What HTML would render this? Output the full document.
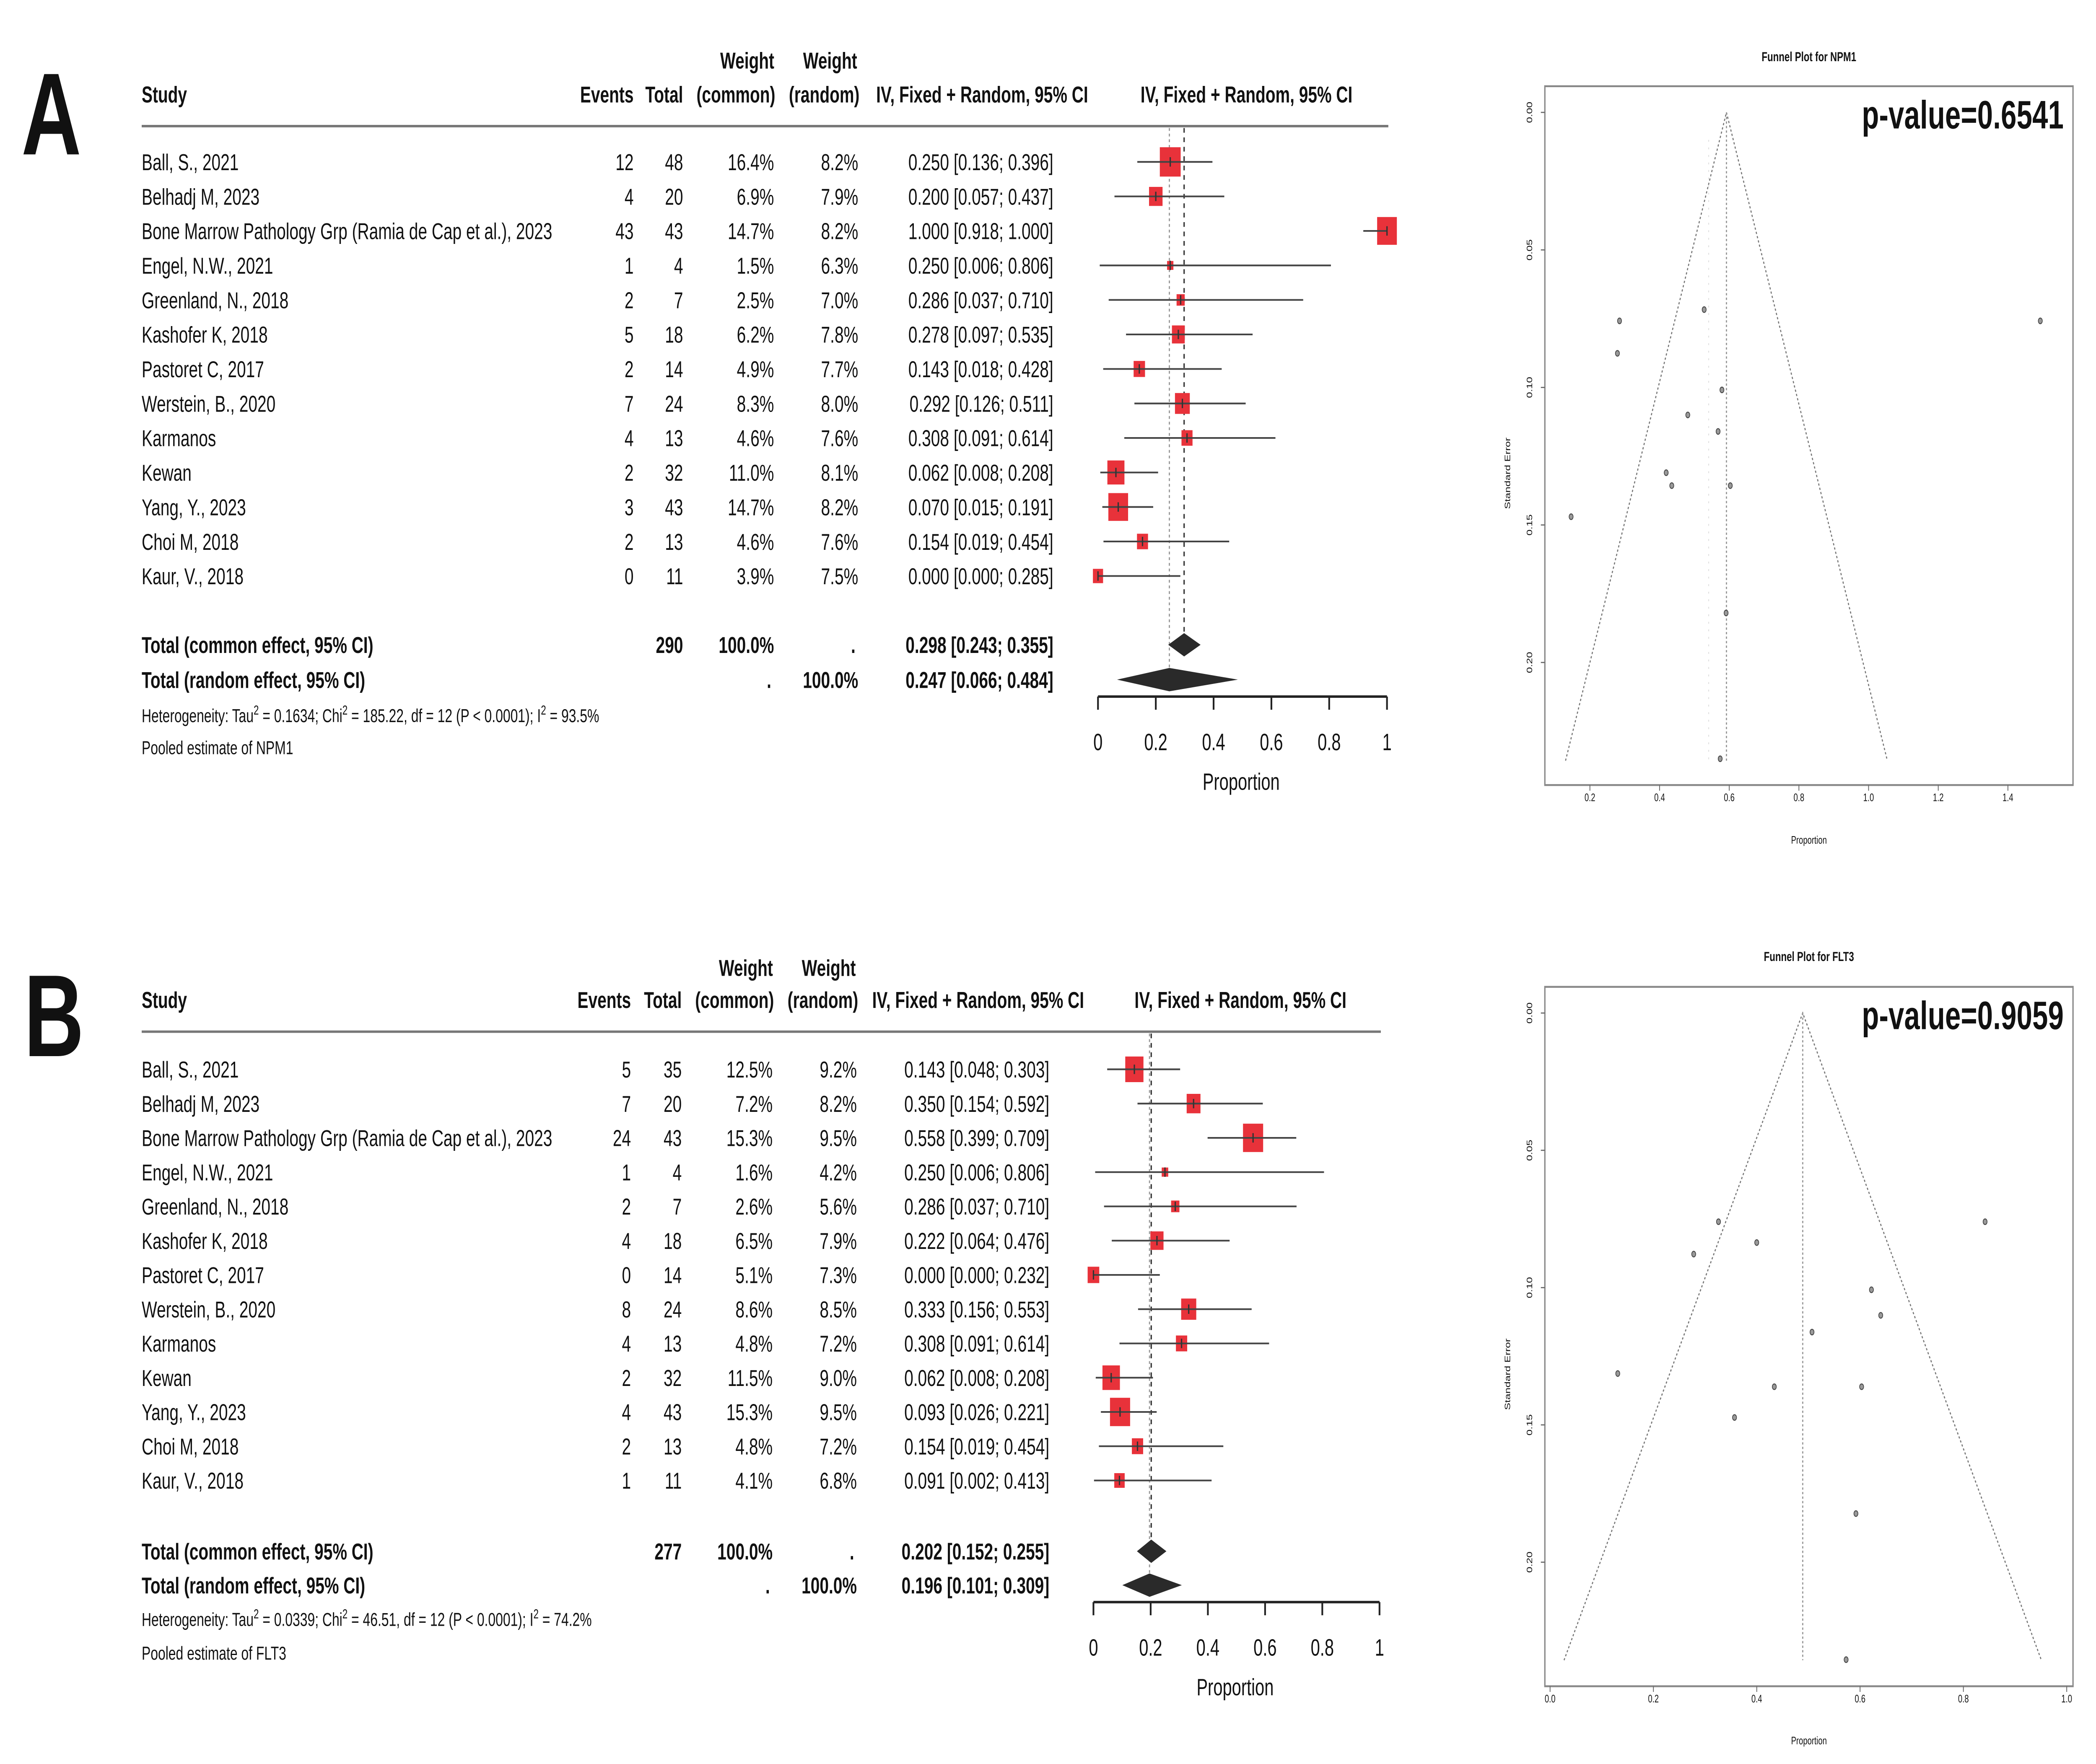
<!DOCTYPE html>
<html><head><meta charset="utf-8">
<style>
html,body{margin:0;padding:0;background:#fff;overflow:hidden;width:100%;height:100%;}
svg{display:block;width:100vw;height:100vh;}
text{font-family:"Liberation Sans",Arial,sans-serif;fill:#111;}
</style></head>
<body>
<svg id="fig" xmlns="http://www.w3.org/2000/svg" viewBox="0 0 1568 937" preserveAspectRatio="none">
<rect x="0" y="0" width="1568" height="937" fill="#fff"/>
<text x="16" y="82" font-size="62" font-weight="bold">A</text>
<text x="18" y="561" font-size="62" font-weight="bold">B</text>
</svg>
<script>
const studies = ["Ball, S., 2021","Belhadj M, 2023","Bone Marrow Pathology Grp (Ramia de Cap et al.), 2023","Engel, N.W., 2021","Greenland, N., 2018","Kashofer K, 2018","Pastoret C, 2017","Werstein, B., 2020","Karmanos","Kewan","Yang, Y., 2023","Choi M, 2018","Kaur, V., 2018"];
const eventsA = [12,4,43,1,2,5,2,7,4,2,3,2,0];
const totalsA = [48,20,43,4,7,18,14,24,13,32,43,13,11];
const wCommonA = [16.4,6.9,14.7,1.5,2.5,6.2,4.9,8.3,4.6,11.0,14.7,4.6,3.9];
const wRandomA = [8.2,7.9,8.2,6.3,7.0,7.8,7.7,8.0,7.6,8.1,8.2,7.6,7.5];
const estA = [0.250,0.200,1.000,0.250,0.286,0.278,0.143,0.292,0.308,0.062,0.070,0.154,0.000];
const loA = [0.136,0.057,0.918,0.006,0.037,0.097,0.018,0.126,0.091,0.008,0.015,0.019,0.000];
const hiA = [0.396,0.437,1.000,0.806,0.710,0.535,0.428,0.511,0.614,0.208,0.191,0.454,0.285];
const pooledCommonA = [0.298,0.243,0.355];
const pooledRandomA = [0.247,0.066,0.484];
const totalEventsA = 290;

const eventsB = [5,7,24,1,2,4,0,8,4,2,4,2,1];
const totalsB = [35,20,43,4,7,18,14,24,13,32,43,13,11];
const wCommonB = [12.5,7.2,15.3,1.6,2.6,6.5,5.1,8.6,4.8,11.5,15.3,4.8,4.1];
const wRandomB = [9.2,8.2,9.5,4.2,5.6,7.9,7.3,8.5,7.2,9.0,9.5,7.2,6.8];
const estB = [0.143,0.350,0.558,0.250,0.286,0.222,0.000,0.333,0.308,0.062,0.093,0.154,0.091];
const loB = [0.048,0.154,0.399,0.006,0.037,0.064,0.000,0.156,0.091,0.008,0.026,0.019,0.002];
const hiB = [0.303,0.592,0.709,0.806,0.710,0.476,0.232,0.553,0.614,0.208,0.221,0.454,0.413];
const pooledCommonB = [0.202,0.152,0.255];
const pooledRandomB = [0.196,0.101,0.309];
const totalEventsB = 277;

const forestTicks = [0,0.2,0.4,0.6,0.8,1];
const forestTickLabels = ["0","0.2","0.4","0.6","0.8","1"];

const funnelPropA = [0.285,0.279,0.528,1.493,0.579,0.481,0.568,0.419,0.435,0.603,0.146,0.591,0.574];
const funnelSeA = [0.0758,0.0876,0.0717,0.0758,0.1009,0.110,0.116,0.131,0.1357,0.1357,0.147,0.182,0.235];
const funnelCenterA = 0.592;
const funnelAltCenterA = 0.541;
const funnelXTicksA = [0.2,0.4,0.6,0.8,1.0,1.2,1.4];
const funnelXLabelsA = ["0.2","0.4","0.6","0.8","1.0","1.2","1.4"];

const funnelPropB = [0.326,0.278,0.400,0.842,0.622,0.640,0.507,0.131,0.434,0.603,0.357,0.592,0.573];
const funnelSeB = [0.0760,0.0878,0.0836,0.0760,0.1008,0.1101,0.1162,0.1313,0.1361,0.1361,0.1473,0.1823,0.2355];
const funnelCenterB = 0.489;
const funnelXTicksB = [0.0,0.2,0.4,0.6,0.8,1.0];
const funnelXLabelsB = ["0.0","0.2","0.4","0.6","0.8","1.0"];

const funnelYTicks = [0,0.05,0.10,0.15,0.20];
const funnelYLabels = ["0.00","0.05","0.10","0.15","0.20"];
const funnelSeMax = 0.2357;

const svg = document.getElementById('fig');
const NS = "http://www.w3.org/2000/svg";
function mk(tag, attrs, parent){
  const e = document.createElementNS(NS, tag);
  for (const k in attrs) e.setAttribute(k, attrs[k]);
  (parent||svg).appendChild(e);
  return e;
}
function txt(x,y,s,size,anchor,weight,parent){
  const t = mk('text',{x:x,y:y+size*0.36,'font-size':size,'text-anchor':anchor||'start','font-weight':weight||'normal'},parent);
  t.textContent = s;
  return t;
}
function f3(v){return v.toFixed(3);}

function forest(cfg){
  const g = mk('g',{});
  
  
  const X = v => cfg.x0 + v*(cfg.x1-cfg.x0);
  const rowY = i => cfg.row0 + i*cfg.rowStep;
  const fs = 12.2;
  let h;
  h = txt(cfg.cStudy, cfg.hdr2, "Study", fs, 'start', 'bold', g);
   
  h = txt(cfg.cEvents, cfg.hdr2, "Events", fs, 'end', 'bold', g);
   
  h = txt(cfg.cTotal, cfg.hdr2, "Total", fs, 'end', 'bold', g);
   
  h = txt(cfg.cWc-20, cfg.hdr1, "Weight", fs, 'middle', 'bold', g);
   
  txt(cfg.cWc+1, cfg.hdr2, "(common)", fs, 'end', 'bold', g);
  h = txt(cfg.cWr-21, cfg.hdr1, "Weight", fs, 'middle', 'bold', g);
   
  txt(cfg.cWr+1, cfg.hdr2, "(random)", fs, 'end', 'bold', g);
  h = txt(cfg.cCI+26, cfg.hdr2, "IV, Fixed + Random, 95% CI", fs, 'end', 'bold', g);
   
  h = txt((X(0)+X(1))/2+3, cfg.hdr2, "IV, Fixed + Random, 95% CI", fs, 'middle', 'bold', g);
   
  const hl = mk('line',{x1:cfg.cStudy,x2:X(1)+1,y1:cfg.hline,y2:cfg.hline,stroke:'#777','stroke-width':1.3},g);
   

  const vl1 = mk('line',{x1:X(cfg.pr[0]),x2:X(cfg.pr[0]),y1:cfg.hline+1,y2:cfg.totR,stroke:'#999','stroke-width':0.9,'stroke-dasharray':'1.5,1.5'},g);
   
  const vl2 = mk('line',{x1:X(cfg.pc[0]),x2:X(cfg.pc[0]),y1:cfg.hline+1,y2:cfg.totC,stroke:'#333','stroke-width':1,'stroke-dasharray':'2.5,2.5'},g);
   

  for (let i=0;i<studies.length;i++){
    const y = rowY(i);
    const r = mk('g',{},g);
    
    
    txt(cfg.cStudy, y, studies[i], fs, 'start', 'normal', r);
    txt(cfg.cEvents, y, String(cfg.ev[i]), fs, 'end', 'normal', r);
    txt(cfg.cTotal, y, String(cfg.tot[i]), fs, 'end', 'normal', r);
    txt(cfg.cWc, y, cfg.wc[i].toFixed(1)+"%", fs, 'end', 'normal', r);
    txt(cfg.cWr, y, cfg.wr[i].toFixed(1)+"%", fs, 'end', 'normal', r);
    txt(cfg.cCI, y, f3(cfg.est[i])+" ["+f3(cfg.lo[i])+"; "+f3(cfg.hi[i])+"]", fs, 'end', 'normal', r);
    const s = 3.85*Math.sqrt(cfg.wc[i]);
    const sq = mk('rect',{x:X(cfg.est[i])-s/2,y:y-s/2,width:s,height:s,fill:'#e8323a'},r);
     
    const ci = mk('line',{x1:X(cfg.lo[i]),x2:X(cfg.hi[i]),y1:y,y2:y,stroke:'#444','stroke-width':0.9},r);
     
    mk('line',{x1:X(cfg.est[i]),x2:X(cfg.est[i]),y1:y-2.5,y2:y+2.5,stroke:'#333','stroke-width':1},r);
  }
  let t;
  t = txt(cfg.cStudy, cfg.totC, "Total (common effect, 95% CI)", fs, 'start', 'bold', g);
   
  txt(cfg.cTotal, cfg.totC, String(cfg.te), fs, 'end', 'bold', g);
  txt(cfg.cWc, cfg.totC, "100.0%", fs, 'end', 'bold', g);
  txt(cfg.cWr-2, cfg.totC, ".", fs, 'end', 'bold', g);
  txt(cfg.cCI, cfg.totC, f3(cfg.pc[0])+" ["+f3(cfg.pc[1])+"; "+f3(cfg.pc[2])+"]", fs, 'end', 'bold', g);
  t = txt(cfg.cStudy, cfg.totR, "Total (random effect, 95% CI)", fs, 'start', 'bold', g);
   
  txt(cfg.cWc-2, cfg.totR, ".", fs, 'end', 'bold', g);
  txt(cfg.cWr, cfg.totR, "100.0%", fs, 'end', 'bold', g);
  txt(cfg.cCI, cfg.totR, f3(cfg.pr[0])+" ["+f3(cfg.pr[1])+"; "+f3(cfg.pr[2])+"]", fs, 'end', 'bold', g);
  const dh = 6.2;
  const d1 = mk('polygon',{points:`${X(cfg.pc[1])},${cfg.totC} ${X(cfg.pc[0])},${cfg.totC-dh} ${X(cfg.pc[2])},${cfg.totC} ${X(cfg.pc[0])},${cfg.totC+dh}`,fill:'#2a2a2a'},g);
   
  const d2 = mk('polygon',{points:`${X(cfg.pr[1])},${cfg.totR} ${X(cfg.pr[0])},${cfg.totR-dh} ${X(cfg.pr[2])},${cfg.totR} ${X(cfg.pr[0])},${cfg.totR+dh}`,fill:'#2a2a2a'},g);
   

  const het = mk('text',{x:cfg.cStudy,y:cfg.het+3.6,'font-size':10},g);
   
  het.innerHTML = cfg.hetHTML;
  t = txt(cfg.cStudy, cfg.pool, cfg.poolText, 10, 'start', 'normal', g);
   

  const ax = mk('line',{x1:X(0),x2:X(1),y1:cfg.axY,y2:cfg.axY,stroke:'#222','stroke-width':1.3},g);
   
  for (let k=0;k<forestTicks.length;k++){
    mk('line',{x1:X(forestTicks[k]),x2:X(forestTicks[k]),y1:cfg.axY,y2:cfg.axY+7,stroke:'#222','stroke-width':1.3},g);
    const tl = txt(X(forestTicks[k]), cfg.axY+24, forestTickLabels[k], 12.5, 'middle', 'normal', g);
     
  }
  const at = txt((X(0)+X(1))/2-1, cfg.axY+45, "Proportion", 12.5, 'middle', 'normal', g);
   
}

forest({name:'forest-plot-npm1', x0:821.4, x1:1037.6, row0:86, rowStep:18.33, hdr1:32, hdr2:50, hline:67,
  cStudy:106, cEvents:474, cTotal:511, cWc:579, cWr:642, cCI:788,
  ev:eventsA, tot:totalsA, wc:wCommonA, wr:wRandomA, est:estA, lo:loA, hi:hiA, pc:pooledCommonA, pr:pooledRandomA, te:totalEventsA,
  totC:342.5, totR:361, het:380, pool:397, axY:370,
  hetHTML:'Heterogeneity: Tau<tspan dy="-4" font-size="7">2</tspan><tspan dy="4"> = 0.1634; Chi</tspan><tspan dy="-4" font-size="7">2</tspan><tspan dy="4"> = 185.22, df = 12 (P &lt; 0.0001); I</tspan><tspan dy="-4" font-size="7">2</tspan><tspan dy="4"> = 93.5%</tspan>',
  poolText:'Pooled estimate of NPM1'});

forest({name:'forest-plot-flt3', x0:818, x1:1032, row0:568, rowStep:18.2, hdr1:514, hdr2:531, hline:548,
  cStudy:106, cEvents:472, cTotal:510, cWc:578, cWr:641, cCI:785,
  ev:eventsB, tot:totalsB, wc:wCommonB, wr:wRandomB, est:estB, lo:loB, hi:hiB, pc:pooledCommonB, pr:pooledRandomB, te:totalEventsB,
  totC:824, totR:842, het:860, pool:878, axY:851,
  hetHTML:'Heterogeneity: Tau<tspan dy="-4" font-size="7">2</tspan><tspan dy="4"> = 0.0339; Chi</tspan><tspan dy="-4" font-size="7">2</tspan><tspan dy="4"> = 46.51, df = 12 (P &lt; 0.0001); I</tspan><tspan dy="-4" font-size="7">2</tspan><tspan dy="4"> = 74.2%</tspan>',
  poolText:'Pooled estimate of FLT3'});

function funnel(cfg){
  const g = mk('g',{});
  
  
  const X = v => cfg.xa + (v-cfg.xv0)*(cfg.xb-cfg.xa)/(cfg.xv1-cfg.xv0);
  const Y = s => cfg.y0 + s*(cfg.y20-cfg.y0)/0.2;
  const box = mk('rect',{x:cfg.bx0,y:cfg.by0,width:cfg.bx1-cfg.bx0,height:cfg.by1-cfg.by0,fill:'none',stroke:'#888','stroke-width':1},g);
   
  const ti = txt((cfg.bx0+cfg.bx1)/2, cfg.titleY, cfg.title, 7, 'middle', 'bold', g);
   
  const pv = txt(cfg.bx1-7, cfg.y0+1, cfg.pval, 21, 'end', 'bold', g);
   
  pv.setAttribute('textLength', '151'); pv.setAttribute('fill', '#222');
  const c = cfg.center;
  const fl = mk('polyline',{points:`${X(c-1.96*funnelSeMax)},${Y(funnelSeMax)} ${X(c)},${Y(0)} ${X(c+1.96*funnelSeMax)},${Y(funnelSeMax)}`,fill:'none',stroke:'#777','stroke-width':0.8,'stroke-dasharray':'1.2,1.2'},g);
   
  const cl = mk('line',{x1:X(c),x2:X(c),y1:Y(0),y2:Y(funnelSeMax),stroke:'#999','stroke-width':0.9,'stroke-dasharray':'1.2,1.2'},g);
   
  if (cfg.alt!==undefined){
    const al = mk('line',{x1:X(cfg.alt),x2:X(cfg.alt),y1:Y(0.01),y2:Y(funnelSeMax),stroke:'#ddd','stroke-width':0.6,'stroke-dasharray':'1,3'},g);
     
  }
  for (let i=0;i<cfg.p.length;i++){
    const pt = mk('circle',{cx:X(cfg.p[i]),cy:Y(cfg.se[i]),r:1.5,fill:'#999',stroke:'#444','stroke-width':0.5},g);
     
  }
  for (let k=0;k<cfg.xt.length;k++){
    const x = X(cfg.xt[k]);
    mk('line',{x1:x,x2:x,y1:cfg.by1,y2:cfg.by1+3,stroke:'#666','stroke-width':0.6},g);
    const tl = txt(x, cfg.by1+6.5, cfg.xl[k], 5.8, 'middle', 'normal', g);
     
  }
  for (let k=0;k<funnelYTicks.length;k++){
    const y = Y(funnelYTicks[k]);
    mk('line',{x1:cfg.bx0-3,x2:cfg.bx0,y1:y,y2:y,stroke:'#666','stroke-width':0.6},g);
    const tl = mk('text',{x:0,y:0,'font-size':5.8,'text-anchor':'middle',transform:`translate(${cfg.bx0-9.5},${y}) rotate(-90)`},g);
    tl.textContent = funnelYLabels[k];
     
  }
  const xt = txt((cfg.bx0+cfg.bx1)/2, cfg.xTitleY, "Proportion", 5.8, 'middle', 'normal', g);
   
  const midY = (cfg.by0+cfg.by1)/2;
  const yt = mk('text',{x:0,y:0,'font-size':5.8,'text-anchor':'middle',transform:`translate(${cfg.bx0-26},${midY+20}) rotate(-90)`},g);
  yt.textContent = "Standard Error";
   
}

funnel({name:'funnel-plot-npm1', title:'Funnel Plot for NPM1', pval:'p-value=0.6541',
  bx0:1155.7, bx1:1550.8, by0:45.8, by1:417, titleY:30, xTitleY:446,
  xa:1189.4, xb:1502.1, xv0:0.2, xv1:1.4, y0:59.7, y20:351.9,
  center:funnelCenterA, alt:funnelAltCenterA, p:funnelPropA, se:funnelSeA, xt:funnelXTicksA, xl:funnelXLabelsA});

funnel({name:'funnel-plot-flt3', title:'Funnel Plot for FLT3', pval:'p-value=0.9059',
  bx0:1155.7, bx1:1550.8, by0:524.2, by1:895.7, titleY:508, xTitleY:924.5,
  xa:1159.6, xb:1546.1, xv0:0, xv1:1, y0:538.1, y20:829.8,
  center:funnelCenterB, p:funnelPropB, se:funnelSeB, xt:funnelXTicksB, xl:funnelXLabelsB});
</script>
</body></html>
